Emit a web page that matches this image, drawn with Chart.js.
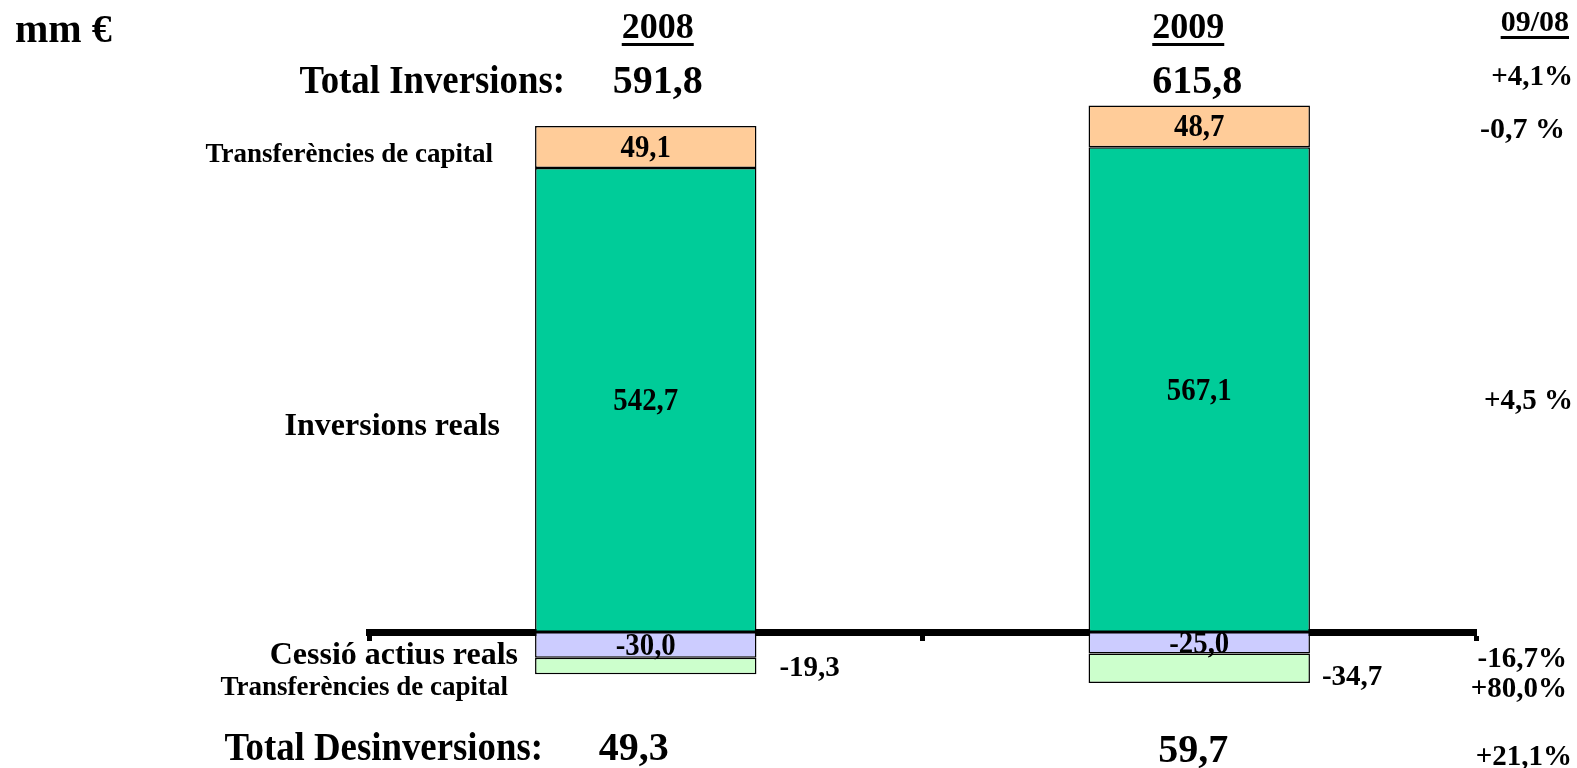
<!DOCTYPE html>
<html>
<head>
<meta charset="utf-8">
<script src="https://cdn.jsdelivr.net/npm/chart.js@4"></script>
<style>
html, body { margin: 0; padding: 0; background: #fff; }
#wrap { width: 1577px; height: 768px; }
</style>
</head>
<body>
<div id="wrap"><canvas id="inversions" width="1577" height="768"></canvas></div>
<script>
// Inversions / desinversions, mm €
const years = ["2008", "2009"];
const inversionsReals = [542.7, 567.1];
const transfCapital = [49.1, 48.7];
const cessioActius = [-30.0, -25.0];
const transfCapitalDes = [-19.3, -34.7];
const totalInversions = [591.8, 615.8];
const totalDesinversions = [49.3, 59.7];
const varHeader = "09/08";
const variacio = ["+4,1%", "-0,7 %", "+4,5 %", "-16,7%", "+80,0%", "+21,1%"];

const FONT = "'Liberation Serif', 'Times New Roman', serif";
const fmt = v => v.toFixed(1).replace(".", ",");

function txt(ctx, s, x, y, size, align, sx) {
    ctx.save();
    ctx.font = "bold " + size + "px " + FONT;
    ctx.fillStyle = "#000";
    ctx.textAlign = align || "center";
    ctx.textBaseline = "alphabetic";
    ctx.translate(x, y);
    ctx.scale(sx || 1, 1);
    ctx.fillText(s, 0, 0);
    const w = ctx.measureText(s).width * (sx || 1);
    ctx.restore();
    return w;
}

function underlined(ctx, s, x, y, size, align) {
    const w = txt(ctx, s, x, y, size, align);
    let left = x - w / 2;
    if (align === "right") left = x - w;
    if (align === "left") left = x;
    ctx.fillStyle = "#000";
    ctx.fillRect(left, y + 5, w, 3);
}

// labels inside / beside the bars (drawn before the axis line)
const sideGap = [23, 12];
const barLabels = {
    id: "barLabels",
    afterDatasetsDraw(chart) {
        const ctx = chart.ctx;
        [0, 1, 2].forEach(d => {
            chart.getDatasetMeta(d).data.forEach((el, i) => {
                const v = chart.data.datasets[d].data[i];
                txt(ctx, fmt(v), el.x, (el.y + el.base) / 2 + 10, 31, "center", 0.93);
            });
        });
        chart.getDatasetMeta(3).data.forEach((el, i) => {
            const v = chart.data.datasets[3].data[i];
            txt(ctx, fmt(v), el.x + el.width / 2 + sideGap[i], el.y + 2, 29, "left");
        });
    }
};

// headings, totals and variation column
const texts = {
    id: "texts",
    afterDraw(chart) {
        const ctx = chart.ctx;
        const xs = chart.scales.x;
        const c0 = xs.getPixelForValue(0), c1 = xs.getPixelForValue(1);

        txt(ctx, "mm €", 15, 42, 40, "left");
        underlined(ctx, years[0], c0 + 12, 38, 36, "center");
        underlined(ctx, years[1], c1 - 11, 38, 36, "center");
        underlined(ctx, varHeader, 1569, 31, 30, "right");

        txt(ctx, "Total Inversions:", 565, 93, 40, "right", 0.92);
        txt(ctx, fmt(totalInversions[0]), c0 + 12, 93, 40);
        txt(ctx, fmt(totalInversions[1]), c1 - 2, 93, 40);

        txt(ctx, "Transferències de capital", 493, 162, 27, "right");
        txt(ctx, "Inversions reals", 500, 435, 32, "right");
        txt(ctx, "Cessió actius reals", 518, 664, 32, "right");
        txt(ctx, "Transferències de capital", 508, 695, 27, "right");

        txt(ctx, "Total Desinversions:", 543, 760, 40, "right", 0.92);
        txt(ctx, fmt(totalDesinversions[0]), c0 - 12, 760, 40);
        txt(ctx, fmt(totalDesinversions[1]), c1 - 6, 762, 40);

        txt(ctx, variacio[0], 1573, 85, 29, "right");
        txt(ctx, variacio[1], 1565, 138, 30, "right");
        txt(ctx, variacio[2], 1573, 409, 29, "right");
        txt(ctx, variacio[3], 1567, 667, 29, "right");
        txt(ctx, variacio[4], 1567, 697, 29, "right");
        txt(ctx, variacio[5], 1572, 765, 29, "right");
    }
};

const barStyle = { borderColor: "#000", borderWidth: 1.5, borderSkipped: false, stack: "s" };

new Chart(document.getElementById("inversions"), {
    type: "bar",
    data: {
        labels: years,
        datasets: [
            { label: "Inversions reals", data: inversionsReals, backgroundColor: "#00CC99", ...barStyle },
            { label: "Transferències de capital", data: transfCapital, backgroundColor: "#FFCC99", ...barStyle },
            { label: "Cessió actius reals", data: cessioActius, backgroundColor: "#CCCCFF", ...barStyle },
            { label: "Transferències de capital ", data: transfCapitalDes, backgroundColor: "#CCFFCC", ...barStyle }
        ]
    },
    options: {
        responsive: false,
        animation: false,
        barPercentage: 0.4,
        categoryPercentage: 1,
        layout: { padding: { left: 369, right: 101, top: 33.5, bottom: 50.5 } },
        plugins: { legend: { display: false }, tooltip: { enabled: false } },
        scales: {
            x: {
                stacked: true,
                position: { y: 0 },
                offset: true,
                z: 1,
                ticks: { display: false },
                grid: { drawOnChartArea: false, drawTicks: true, tickLength: 5, tickWidth: 5, tickColor: "#000", offset: true },
                border: { display: true, color: "#000", width: 7 }
            },
            y: { stacked: true, display: false, min: -100, max: 700 }
        }
    },
    plugins: [barLabels, texts]
});
</script>
</body>
</html>
